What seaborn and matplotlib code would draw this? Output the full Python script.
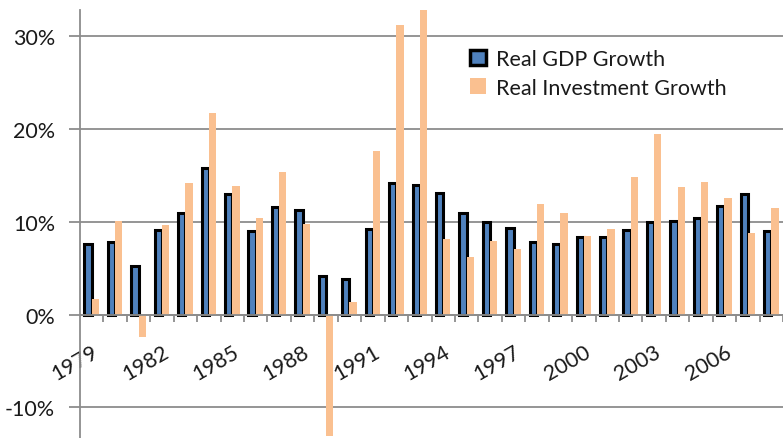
import matplotlib
matplotlib.use('Agg')
import matplotlib.pyplot as plt
from matplotlib.patches import Patch
from matplotlib.ticker import FixedLocator, FuncFormatter
import numpy as np
import pandas as pd
import seaborn as sns

years = list(range(1979, 2009))
gdp_growth = [7.6, 7.8, 5.2, 9.1, 10.9, 15.8, 13.0, 9.0, 11.6, 11.3, 4.1, 3.8, 9.2, 14.2,
              14.0, 13.1, 10.9, 10.0, 9.3, 7.8, 7.6, 8.4, 8.3, 9.1, 10.0, 10.1, 10.4, 11.7,
              13.0, 9.0]
inv_growth = [1.7, 10.1, -2.4, 9.6, 14.2, 21.7, 13.8, 10.4, 15.4, 9.8, -13.1, 1.4, 17.6, 31.2,
              34.0, 8.1, 6.2, 7.9, 7.1, 11.9, 10.9, 8.5, 9.2, 14.8, 19.4, 13.7, 14.3, 12.5,
              8.8, 11.5]
series_names = ['Real GDP Growth', 'Real Investment Growth']
tick_years = [1979, 1982, 1985, 1988, 1991, 1994, 1997, 2000, 2003, 2006]
y_ticks = [-10, 0, 10, 20, 30]

colors = ['#4F81BD', '#FAC090']
grid_col = '#8c8c8c'
text_col = '#1a1a1a'

sns.set_theme(style='white')
plt.rcParams['font.family'] = ['Lato', 'DejaVu Sans']

df = pd.DataFrame({
    'Year': years * 2,
    'Value': gdp_growth + inv_growth,
    'Series': [series_names[0]] * len(years) + [series_names[1]] * len(years),
})

fig = plt.figure(figsize=(7.83, 4.39), dpi=100)
ax = fig.add_axes([80 / 783, 0, 703 / 783, 1 - 11 / 439])

sns.barplot(data=df, x='Year', y='Value', hue='Series', hue_order=series_names,
            palette=colors, width=0.62, saturation=1, ax=ax, legend=False)

for bar in ax.containers[0]:
    bar.set_edgecolor('black')
    bar.set_linewidth(2.2)
for bar in ax.containers[1]:
    bar.set_edgecolor('none')
    bar.set_linewidth(0)

ax.set_xlim(-0.5, len(years) - 0.5)
ax.set_ylim(-13.3, 32.8)

ax.set_xlabel('')
ax.set_ylabel('')

for s in ['top', 'right']:
    ax.spines[s].set_visible(False)
ax.spines['left'].set_color(grid_col)
ax.spines['left'].set_linewidth(1.3)
ax.spines['bottom'].set_position(('data', 0))
ax.spines['bottom'].set_color(grid_col)
ax.spines['bottom'].set_linewidth(1.3)

ax.yaxis.set_major_locator(FixedLocator(y_ticks))
ax.yaxis.set_major_formatter(FuncFormatter(lambda v, p: f'{v:.0f}%'))
ax.yaxis.grid(True, color=grid_col, linewidth=1.3)
ax.set_axisbelow(True)
ax.tick_params(axis='y', which='major', left=True, length=8, width=1.3, color=grid_col,
               labelsize=15.5, labelcolor=text_col, pad=10)

major_pos = [years.index(y) for y in tick_years]
ax.xaxis.set_major_locator(FixedLocator(major_pos))
ax.set_xticklabels([str(y) for y in tick_years])
ax.xaxis.set_minor_locator(FixedLocator(np.arange(0.5, len(years), 1.0)))
ax.tick_params(axis='x', which='major', bottom=True, length=0, pad=19, labelsize=15.5,
               labelcolor=text_col)
ax.tick_params(axis='x', which='minor', bottom=True, length=5, width=1.3, color=grid_col,
               direction='out')
for lbl in ax.get_xticklabels():
    lbl.set_rotation(30)
    lbl.set_ha('right')
    lbl.set_rotation_mode('anchor')

handles = [Patch(facecolor=colors[0], edgecolor='black', linewidth=2.5),
           Patch(facecolor=colors[1], edgecolor='none')]
ax.legend(handles, series_names, loc='upper left',
          bbox_to_anchor=(470 / 783, 1 - 50 / 439), bbox_transform=fig.transFigure,
          frameon=False, fontsize=15.5, handlelength=0.75, handleheight=0.75,
          handletextpad=0.45, labelspacing=0.4, borderaxespad=0, borderpad=0,
          labelcolor=text_col)

fig.savefig('out.png', dpi=100)
